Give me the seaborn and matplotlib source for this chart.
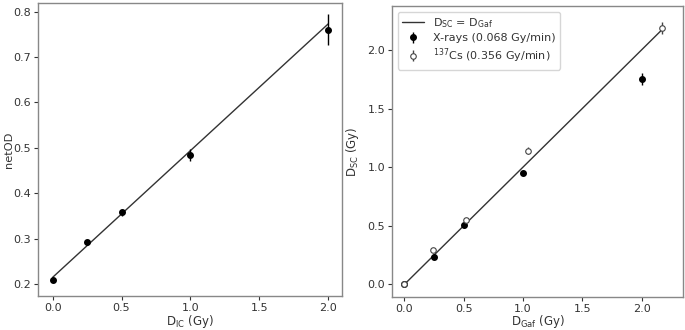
import numpy as np
import pandas as pd
import matplotlib
matplotlib.use("Agg")
import matplotlib.pyplot as plt
import seaborn as sns

# ---- Left panel data ----
dose_ic = [0.0, 0.25, 0.5, 1.0, 2.0]
net_od = [0.209, 0.292, 0.358, 0.485, 0.760]
net_od_err = [0.004, 0.005, 0.008, 0.013, 0.034]
fit_x = [0.0, 2.0]
fit_y = [0.215, 0.773]

# ---- Right panel data ----
xray_gaf = [0.0, 0.25, 0.5, 1.0, 2.0]
xray_sc = [0.0, 0.235, 0.505, 0.95, 1.75]
xray_err = [0.01, 0.02, 0.02, 0.02, 0.05]
cs_gaf = [0.0, 0.24, 0.52, 1.04, 2.17]
cs_sc = [0.0, 0.29, 0.55, 1.14, 2.19]
cs_err = [0.01, 0.015, 0.02, 0.03, 0.05]
ident_x = [0.0, 2.17]
ident_y = [0.0, 2.17]

sns.set_style("ticks")
plt.rcParams.update({
    "font.family": ["DejaVu Sans"],
    "font.size": 8,
    "text.color": "#333333",
    "axes.labelcolor": "#333333",
    "xtick.color": "#333333",
    "ytick.color": "#333333",
    "axes.edgecolor": "#888888",
    "axes.linewidth": 1.0,
})

fig = plt.figure(figsize=(6.85, 3.3), dpi=100)
ax1 = fig.add_axes([38/685, 1-296/330, 304/685, 293/330])
ax2 = fig.add_axes([392/685, 1-297/330, 291/685, 291/330])

# Left panel
sns.lineplot(x=fit_x, y=fit_y, ax=ax1, color="#333333", lw=1.0)
ax1.errorbar(dose_ic, net_od, yerr=net_od_err, fmt="o", color="black",
             ms=4, elinewidth=1.0, capsize=0)
ax1.set_xlim(-0.106, 2.1)
ax1.set_ylim(0.174, 0.819)
ax1.set_xticks([0.0, 0.5, 1.0, 1.5, 2.0])
ax1.set_yticks([0.2, 0.3, 0.4, 0.5, 0.6, 0.7, 0.8])
ax1.set_xlabel(r"D$_{\mathrm{IC}}$ (Gy)", fontsize=8.5)
ax1.set_ylabel("netOD", fontsize=8.2)
ax1.xaxis.set_label_coords(0.5, (296 - 313) / 293)
ax1.yaxis.set_label_coords((14 - 38) / 304, 0.5)

# Right panel
sns.lineplot(x=ident_x, y=ident_y, ax=ax2, color="#333333", lw=1.0,
             label=r"D$_{\mathrm{SC}}$ = D$_{\mathrm{Gaf}}$")
ax2.errorbar(xray_gaf, xray_sc, yerr=xray_err, fmt="o", color="black",
             ms=4, elinewidth=1.0, capsize=0, label="X-rays (0.068 Gy/min)")
ax2.errorbar(cs_gaf, cs_sc, yerr=cs_err, fmt="o", color="#444444",
             mfc="white", mec="#444444", ms=4, mew=0.8, elinewidth=1.0,
             capsize=0, label=r"$^{137}$Cs (0.356 Gy/min)")
ax2.set_xlim(-0.105, 2.35)
ax2.set_ylim(-0.108, 2.375)
ax2.set_xticks([0.0, 0.5, 1.0, 1.5, 2.0])
ax2.set_yticks([0.0, 0.5, 1.0, 1.5, 2.0])
ax2.set_xlabel(r"D$_{\mathrm{Gaf}}$ (Gy)", fontsize=8.5)
ax2.set_ylabel(r"D$_{\mathrm{SC}}$ (Gy)", fontsize=8.5)
ax2.xaxis.set_label_coords(0.5, (297 - 313) / 291)
ax2.yaxis.set_label_coords((361 - 392) / 291, 0.5)
ax2.legend(loc="upper left", fontsize=8, frameon=True, handlelength=2.0,
           borderpad=0.4, labelspacing=0.3)

for ax in (ax1, ax2):
    ax.tick_params(labelsize=8, width=0.8, length=3, pad=2)

fig.savefig("out.png", dpi=100)
